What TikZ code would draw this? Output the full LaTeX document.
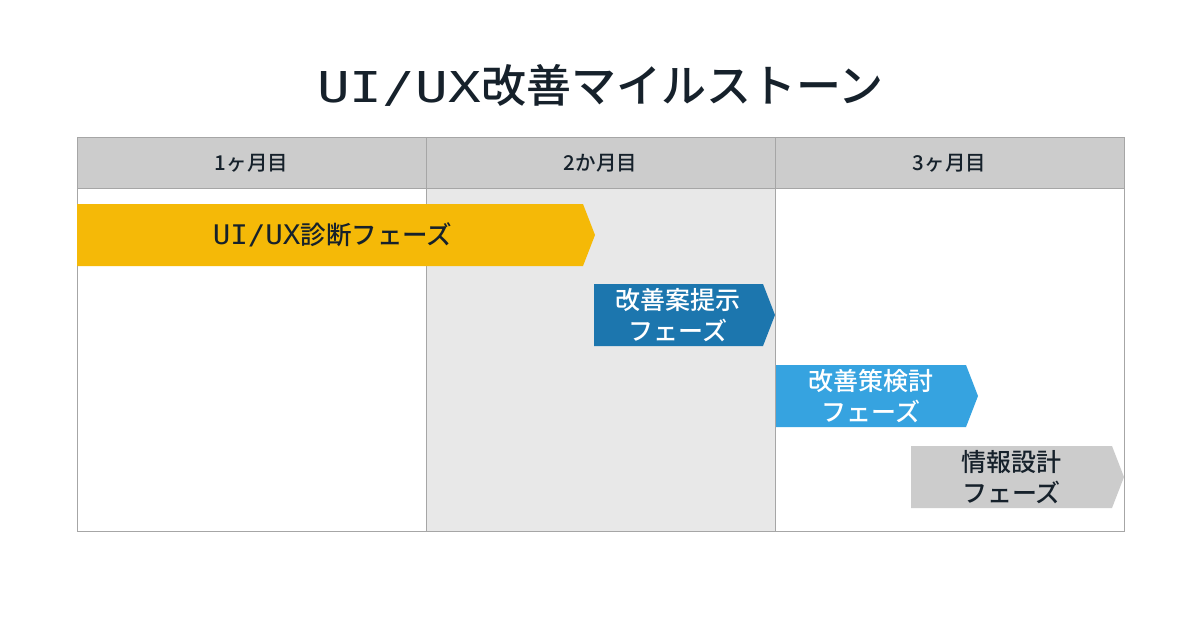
\documentclass[tikz,border=0pt]{standalone}
\usepackage{fontspec}
\setmainfont{Noto Sans CJK JP}
\newfontfamily\medfont{Noto Sans CJK JP Medium}
\newfontfamily\latmono{DejaVu Sans Mono}
\newcommand{\latw}[3]{{\latmono\fontsize{#1}{#1}\selectfont\addfontfeature{FakeStretch=#2}#3}}
\definecolor{ink}{HTML}{16212B}
\definecolor{hdrfill}{HTML}{CCCCCC}
\definecolor{colfill}{HTML}{E8E8E8}
\definecolor{gridcol}{HTML}{A6A6A6}
\definecolor{yel}{HTML}{F5B907}
\definecolor{dblue}{HTML}{1C76AE}
\definecolor{lblue}{HTML}{36A3E0}
\definecolor{gryfill}{HTML}{CCCCCC}
\tikzset{
  hdrtext/.style={font=\medfont\fontsize{20.5}{24}\selectfont, text=ink, anchor=center},
  phasetext/.style={font=\medfont\fontsize{25}{31}\selectfont, align=center, anchor=center},
  gridline/.style={draw=gridcol, line width=1pt},
}
\newcommand{\phasearrow}[6]{% x1 x2 tip y1 y2 color
  \fill[#6] (#1,#4) -- (#2,#4) -- (#3,{(#4+#5)/2}) -- (#2,#5) -- (#1,#5) -- cycle;
}
\begin{document}
\begin{tikzpicture}[x=1pt,y=-1pt]
\useasboundingbox (0,0) rectangle (1200,630);
\fill[white] (0,0) rectangle (1200,630);
% title
\node[font=\medfont\fontsize{45}{52}\selectfont, text=ink] (title) at (600.5,85) {\latw{42.5}{1.28}{UI/UX}改善マイルストーン};
% table background
\fill[hdrfill] (77,137) rectangle (1124,188);
\fill[colfill] (426,188) rectangle (775,531);
\draw[gridline] (77,137) rectangle (1124,531);
\draw[gridline] (77,188) -- (1124,188);
\draw[gridline] (426,137) -- (426,531);
\draw[gridline] (775,137) -- (775,531);
\node[hdrtext] (m1) at (251.5,163) {1ヶ月目};
\node[hdrtext] (m2) at (600.5,163) {2か月目};
\node[hdrtext] (m3) at (949.5,163) {3ヶ月目};
% phases
\phasearrow{77}{583}{595}{204}{266}{yel}
\node[phasetext, font=\medfont\fontsize{25.5}{31}\selectfont, text=ink] (p1) at (332.5,235) {\latw{27}{1.08}{UI/UX}診断フェーズ};
\phasearrow{594}{763}{775}{284}{346}{dblue}
\node[phasetext, text=white] (p2) at (678,315) {改善案提示\\フェーズ};
\phasearrow{776}{966}{978}{365}{427}{lblue}
\node[phasetext, text=white] (p3) at (871,396) {改善策検討\\フェーズ};
\phasearrow{911}{1112}{1124}{446}{508}{gryfill}
\node[phasetext, text=ink] (p4) at (1011.5,477) {情報設計\\フェーズ};
\end{tikzpicture}
\end{document}
